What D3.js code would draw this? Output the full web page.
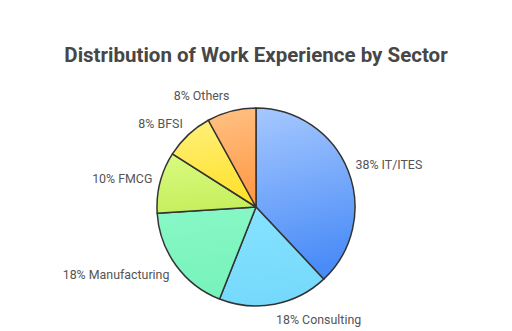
<!DOCTYPE html>
<html>
<head>
  <meta charset="utf-8">
  <title>Distribution of Work Experience by Sector</title>
  <script src="https://d3js.org/d3.v7.min.js"></script>
  <style>
    body { margin: 0; background: #fff; }
    text { font-family: Roboto, "Noto Sans", sans-serif; }
  </style>
</head>
<body>
  <script>
    // data
    const sectors = ["IT/ITES", "Consulting", "Manufacturing", "FMCG", "BFSI", "Others"];
    const shares = [38, 18, 18, 10, 8, 8];
    const colorsTop = ["#a6c8ff", "#86e3fe", "#88f8c6", "#dafa80", "#fff07c", "#ffc285"];
    const colorsBottom = ["#4a8cf7", "#76d9fc", "#78f3bb", "#c6ef5e", "#ffe12c", "#ff9a48"];

    const width = 512, height = 331;
    const cx = 256, cy = 207, radius = 99;

    const svg = d3.select("body")
      .append("svg")
      .attr("width", width)
      .attr("height", height);

    // gradients, one per slice
    const defs = svg.append("defs");
    sectors.forEach(function(s, i) {
      const g = defs.append("linearGradient")
        .attr("id", "grad" + i)
        .attr("x1", 0).attr("y1", 0)
        .attr("x2", 0.15).attr("y2", 1);
      g.append("stop").attr("offset", "0%").attr("stop-color", colorsTop[i]);
      g.append("stop").attr("offset", "100%").attr("stop-color", colorsBottom[i]);
    });

    svg.append("text")
      .attr("x", width / 2)
      .attr("y", 62)
      .attr("text-anchor", "middle")
      .style("font-size", "20.5px")
      .style("font-weight", "bold")
      .style("fill", "#474747")
      .text("Distribution of Work Experience by Sector");

    const data = sectors.map(function(s, i) { return { name: s, value: shares[i], idx: i }; });

    const pie = d3.pie()
      .sort(null)
      .value(function(d) { return d.value; });

    const arc = d3.arc().innerRadius(0).outerRadius(radius);

    const g = svg.append("g")
      .attr("transform", `translate(${cx},${cy})`);

    const arcs = pie(data);

    g.selectAll(".slice")
      .data(arcs)
      .enter()
      .append("path")
        .attr("class", "slice")
        .attr("d", arc)
        .style("fill", function(d) { return "url(#grad" + d.data.idx + ")"; })
        .style("stroke", "#333")
        .style("stroke-width", 1.5)
        .style("stroke-linejoin", "round");

    // labels outside the pie, on a slightly flattened ellipse
    const labelRx = 107, labelRy = 115;
    const mid = function(d) { return (d.startAngle + d.endAngle) / 2; };
    g.selectAll(".label")
      .data(arcs)
      .enter()
      .append("text")
        .attr("class", "label")
        .attr("x", function(d) { return Math.sin(mid(d)) * labelRx; })
        .attr("y", function(d) { return -Math.cos(mid(d)) * labelRy; })
        .attr("dy", "0.35em")
        .attr("text-anchor", function(d) { return mid(d) < Math.PI ? "start" : "end"; })
        .style("font-size", "12.4px")
        .style("fill", "#555")
        .text(function(d) { return d.data.value + "% " + d.data.name; });
  </script>
</body>
</html>
